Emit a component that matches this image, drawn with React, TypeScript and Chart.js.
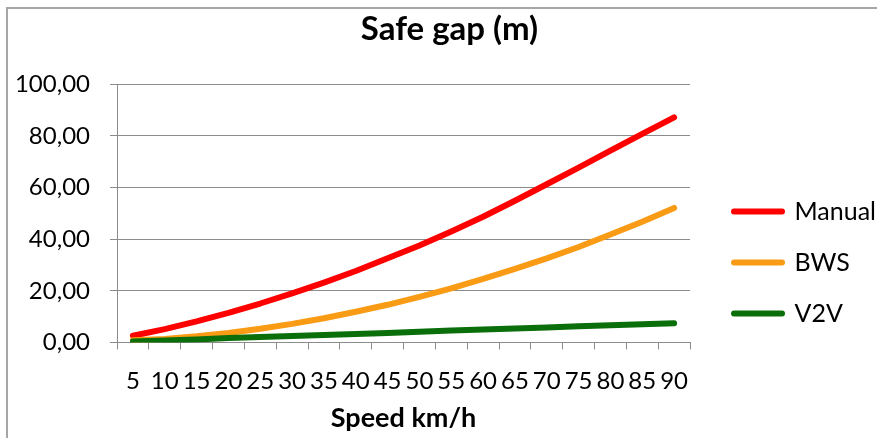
import React, { useEffect, useRef } from 'react';
import { Chart, registerables } from 'chart.js';

Chart.register(...registerables);

const speeds = ['5', '10', '15', '20', '25', '30', '35', '40', '45', '50', '55', '60', '65', '70', '75', '80', '85', '90'];
const manual = [2.6, 5.2, 8.2, 11.5, 15.1, 19.0, 23.2, 27.7, 32.6, 37.6, 43.0, 48.7, 54.9, 61.3, 67.7, 74.3, 80.8, 87.2];
const bws = [0.9, 1.4, 2.4, 3.7, 5.3, 7.2, 9.4, 11.9, 14.6, 17.7, 21.0, 24.6, 28.5, 32.6, 37.0, 41.8, 46.8, 52.1];
const v2v = [0.4, 0.8, 1.2, 1.7, 2.1, 2.5, 2.9, 3.3, 3.7, 4.2, 4.6, 5.0, 5.4, 5.8, 6.3, 6.7, 7.1, 7.5];
const seriesNames = ['Manual', 'BWS', 'V2V'];
const yMin = 0;
const yMax = 100;
const yStep = 20;

const FONT = 'Lato, "Open Sans", sans-serif';
const GRID = '#8c8c8c';
const RED = '#ff0000';
const ORANGE = '#f99b14';
const GREEN = '#0a6e0a';

export default function App() {
  const ref = useRef<HTMLCanvasElement>(null);

  useEffect(() => {
    const mk = (label: string, data: number[], color: string, order: number) => ({
      label,
      data,
      borderColor: color,
      backgroundColor: color,
      borderWidth: 6,
      borderCapStyle: 'round' as const,
      borderJoinStyle: 'round' as const,
      pointRadius: 0,
      pointHoverRadius: 0,
      tension: 0,
      fill: false,
      order,
    });
    const chart = new Chart(ref.current as HTMLCanvasElement, {
      type: 'line',
      data: {
        labels: speeds,
        datasets: [
          mk(seriesNames[0], manual, RED, 3),
          mk(seriesNames[1], bws, ORANGE, 2),
          mk(seriesNames[2], v2v, GREEN, 1),
        ],
      },
      options: {
        animation: false,
        responsive: true,
        maintainAspectRatio: false,
        layout: { padding: { left: 5, right: 4, top: 0, bottom: 0 } },
        plugins: {
          tooltip: { enabled: false },
          title: {
            display: true,
            text: 'Safe gap (m)',
            color: '#000',
            font: { family: FONT, size: 33, weight: 'bold', lineHeight: 1.2 },
            padding: { top: 1, bottom: 34.7 },
          },
          legend: {
            position: 'right',
            align: 'center',
            title: {
              display: true,
              text: '',
              font: { size: 10, lineHeight: '10px' },
              padding: { top: 50, bottom: 0 },
            },
            labels: {
              usePointStyle: true,
              pointStyle: 'line',
              pointStyleWidth: 48,
              padding: 44,
              color: '#000',
              font: { family: FONT, size: 25, lineHeight: '7px' },
              generateLabels: (c: any) =>
                Chart.defaults.plugins.legend.labels
                  .generateLabels(c)
                  .sort((a: any, b: any) => a.datasetIndex - b.datasetIndex)
                  .map((it: any) => ({
                    ...it,
                    text: [it.text],
                    lineWidth: 6,
                    lineCap: 'round',
                  })),
            },
          },
        },
        scales: {
          x: {
            offset: true,
            grid: { offset: true, drawOnChartArea: false, drawTicks: true, tickLength: 7, color: GRID, lineWidth: 1 },
            border: { display: true, color: GRID, width: 1 },
            ticks: {
              color: '#000',
              font: { family: FONT, size: 24 },
              padding: 17,
              autoSkip: false,
              maxRotation: 0,
              minRotation: 0,
            },
            title: {
              display: true,
              text: 'Speed km/h',
              color: '#000',
              font: { family: FONT, size: 27, weight: 'bold', lineHeight: 1.2 },
              padding: { top: -10.5, bottom: 3.8 },
            },
          },
          y: {
            min: yMin,
            max: yMax,
            afterFit: (s: any) => {
              s.width = 104;
            },
            grid: { color: GRID, lineWidth: 1, tickLength: 7, drawTicks: true },
            border: { display: true, color: GRID, width: 1 },
            ticks: {
              stepSize: yStep,
              color: '#000',
              font: { family: FONT, size: 24 },
              padding: 20,
              callback: (v: any) => Number(v).toFixed(2).replace('.', ','),
            },
          },
        },
      } as any,
    });
    return () => chart.destroy();
  }, []);

  return (
    <div
      style={{
        position: 'absolute',
        left: 6,
        top: 7,
        width: 871,
        height: 431,
        overflow: 'hidden',
        borderLeft: '2px solid #a6a6a6',
        borderTop: '2px solid #a6a6a6',
        boxSizing: 'border-box',
        background: '#fff',
      }}
    >
      <div style={{ position: 'relative', width: 882, height: 429 }}>
        <canvas ref={ref} />
      </div>
    </div>
  );
}
